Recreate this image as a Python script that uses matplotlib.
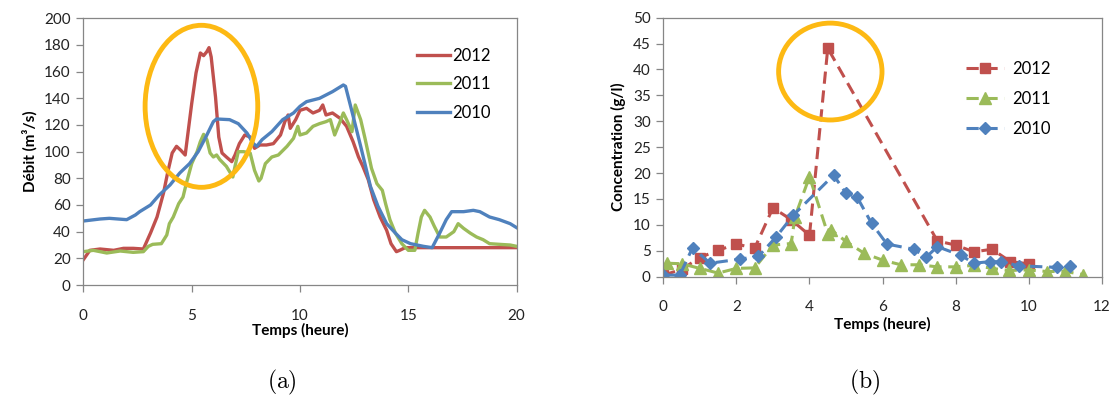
import matplotlib
matplotlib.use("Agg")
import matplotlib.pyplot as plt
from matplotlib.patches import Ellipse

plt.rcParams['font.family'] = ['Lato', 'DejaVu Sans']
plt.rcParams['mathtext.fontset'] = 'cm'

# couleurs façon Excel
c_red = '#C0504D'
c_green = '#9BBB59'
c_blue = '#4F81BD'
c_orange = '#FDB913'
c_axis = '#868686'

# (a) Débit
t12 = [0, 0.3, 0.77, 1.4, 1.85, 2.3, 2.77, 3.1, 3.4, 3.7, 3.9, 4.1, 4.3, 4.5, 4.7, 5.0, 5.2, 5.4,
       5.55, 5.7, 5.8, 5.9, 6.1, 6.25, 6.4, 6.6, 6.85, 7.0, 7.2, 7.45, 7.7, 7.9, 8.15, 8.45, 8.77,
       9.1, 9.3, 9.45, 9.55, 9.8, 10.0, 10.3, 10.6, 10.9, 11.05, 11.2, 11.5, 11.85, 12.15, 12.45,
       12.7, 12.9, 13.15, 13.4, 13.7, 14.0, 14.2, 14.45, 14.6, 14.85, 20.0]
q12 = [19, 26, 27, 26, 27.5, 27.5, 27, 39, 51, 69, 85, 99, 104, 101, 97.5, 136, 159, 174,
       172, 175, 178, 171, 141, 111, 99, 96, 92.5, 97.5, 106, 112.5, 111, 102.5, 105, 105, 106,
       112.5, 122.5, 127.5, 117.5, 124, 131, 132.5, 129, 131, 135, 127.5, 129, 125, 119, 107.5,
       96, 89, 79, 64, 51, 41, 31, 25, 26, 28, 28]

t11 = [0, 0.46, 1.08, 1.7, 2.3, 2.77, 3.0, 3.2, 3.6, 3.85, 3.97, 4.15, 4.4, 4.6, 4.75, 5.0, 5.25,
       5.4, 5.55, 5.7, 5.85, 6.0, 6.15, 6.3, 6.6, 6.9, 7.0, 7.15, 7.4, 7.7, 7.9, 8.1, 8.2, 8.4, 8.7,
       9.0, 9.4, 9.7, 9.9, 10.0, 10.3, 10.6, 10.9, 11.2, 11.4, 11.6, 11.85, 12.0, 12.15, 12.4,
       12.55, 12.8, 13.0, 13.3, 13.55, 13.8, 13.95, 14.15, 14.4, 14.7, 15.0, 15.3, 15.45, 15.6,
       15.75, 16.0, 16.2, 16.45, 16.75, 17.1, 17.3, 17.55, 17.85, 18.15, 18.45, 18.75, 19.2,
       19.7, 20.0]
q11 = [25, 26, 24, 25.5, 24.5, 25, 29, 30.5, 31, 37.5, 46, 51, 61, 66, 76, 91, 100,
       107.5, 113, 109, 99, 96, 97.5, 94, 89, 81, 89, 100, 100, 99, 86, 78, 80, 91, 96,
       97.5, 104, 110, 119, 112.5, 114, 119, 121, 122.5, 124, 112.5, 122.5, 129, 124, 115,
       135, 124, 110, 87.5, 76, 71, 61, 49, 39, 31, 26, 26, 39, 51,
       56, 51, 44, 36, 36, 40, 46, 42.5, 39, 36, 34, 31, 30.5,
       30, 29]

t10 = [0, 0.77, 1.2, 2.0, 2.4, 2.6, 3.1, 3.5, 4.0, 4.45, 4.9, 5.3, 5.7, 6.0, 6.15, 6.75, 7.15,
       7.55, 7.85, 8.0, 8.25, 8.7, 9.2, 9.7, 10.0, 10.3, 10.9, 11.5, 12.0, 12.1, 12.4, 12.8,
       13.25, 13.6, 14.0, 14.4, 14.7, 15.1, 15.7, 16.1, 16.45, 16.75, 17.0, 17.55, 18.0, 18.3,
       18.75, 19.2, 19.7, 20.0]
q10 = [48, 49.5, 50, 49, 52.5, 55, 60, 67.5, 75, 84, 91, 100, 112.5, 122.5, 124.5, 124, 121,
       114, 106, 104, 109, 115, 124, 129, 134, 137.5, 140, 145, 150, 149, 130, 104,
       74, 59, 46, 39, 34, 31, 29, 28, 39, 49, 55, 55, 56, 55,
       51, 49, 46, 43]

# (b) Concentration
x12 = [0, 0.5, 1.0, 1.5, 2.0, 2.5, 3.0, 3.5, 4.0, 4.5, 7.5, 8.0, 8.5, 9.0, 9.5, 10.0]
c12 = [0.3, 1.4, 3.7, 5.1, 6.3, 5.5, 13.3, 11.0, 8.0, 44.1, 6.9, 6.1, 4.8, 5.3, 2.9, 2.5]

x11 = [0.1, 0.5, 1.0, 1.5, 2.0, 2.5, 3.0, 3.5, 3.6, 4.0, 4.5, 4.6, 5.0, 5.5, 6.0, 6.5, 7.0,
       7.5, 8.0, 8.5, 9.0, 9.45, 10.0, 10.5, 11.0, 11.5]
c11 = [2.6, 2.5, 1.6, 0.7, 1.6, 1.7, 6.1, 6.4, 11.5, 19.3, 8.3, 9.0, 6.8, 4.5, 3.2, 2.3, 2.3,
       1.9, 1.9, 2.2, 1.6, 1.2, 1.3, 1.0, 1.0, 0.4]

x10 = [0, 0.45, 0.8, 1.28, 2.1, 2.6, 3.09, 3.56, 4.66, 5.0, 5.3, 5.7, 6.12, 6.85, 7.2, 7.5,
       8.15, 8.5, 8.93, 9.25, 9.73, 10.78, 11.12]
c10 = [0.3, 0.3, 5.6, 2.6, 3.4, 3.9, 7.7, 11.9, 19.6, 16.1, 15.4, 10.3, 6.3, 5.3, 3.8, 5.8,
       4.1, 2.6, 2.9, 2.9, 2.1, 1.8, 2.1]

years = ['2012', '2011', '2010']

fig = plt.figure(figsize=(11.13, 3.98), dpi=100)
ax1 = fig.add_axes([0.0749, 0.2839, 0.3893, 0.6701])
ax2 = fig.add_axes([0.5960, 0.3048, 0.3939, 0.6508])

# --- (a)
ax1.plot(t12, q12, color=c_red, lw=2.4, label=years[0])
ax1.plot(t11, q11, color=c_green, lw=2.4, label=years[1])
ax1.plot(t10, q10, color=c_blue, lw=2.4, label=years[2])
ax1.add_patch(Ellipse((5.45, 134), 5.2, 121.5, fill=False, ec=c_orange, lw=3.5, zorder=5))
ax1.set_xlim(0, 20)
ax1.set_ylim(0, 200)
ax1.set_xticks([0, 5, 10, 15, 20])
ax1.set_yticks(range(0, 201, 20))
ax1.set_ylabel('Débit (m³/s)', fontsize=11, fontweight='bold', labelpad=5)
ax1.set_xlabel('Temps (heure)', fontsize=11, fontweight='bold', labelpad=0)
ax1.legend(loc='upper left', bbox_to_anchor=(0.755, 0.915), frameon=False, fontsize=12,
           handlelength=2.0, handletextpad=0.1, labelspacing=0.75, borderaxespad=0)

# --- (b)
dash = (0, (4, 2.2))
ax2.plot(x12, c12, color=c_red, lw=2.2, ls=dash, marker='s', ms=7.5, label=years[0])
ax2.plot(x11, c11, color=c_green, lw=2.2, ls=dash, marker='^', ms=8, label=years[1])
ax2.plot(x10, c10, color=c_blue, lw=2.2, ls=dash, marker='D', ms=6.5, label=years[2])
ax2.add_patch(Ellipse((4.57, 39.6), 2.83, 18.7, fill=False, ec=c_orange, lw=3.5, zorder=5))
ax2.set_xlim(0, 12)
ax2.set_ylim(0, 50)
ax2.set_xticks(range(0, 13, 2))
ax2.set_yticks(range(0, 51, 5))
ax2.set_ylabel('Concentration (g/l)', fontsize=11, fontweight='bold', labelpad=5)
ax2.set_xlabel('Temps (heure)', fontsize=11, fontweight='bold', labelpad=2)
ax2.legend(loc='upper left', bbox_to_anchor=(0.675, 0.86), frameon=False, fontsize=12,
           handlelength=2.3, handletextpad=0.45, labelspacing=0.85, borderaxespad=0)

for ax in (ax1, ax2):
    for s in ax.spines.values():
        s.set_color(c_axis)
        s.set_linewidth(0.9)
    ax.tick_params(axis='both', direction='out', length=5, width=0.9, color=c_axis,
                   labelsize=11, labelcolor='#222222', pad=4)
    ax.tick_params(axis='x', pad=12)

fig.text(282 / 1113, 1 - 382 / 398, r'$\mathrm{(a)}$', ha='center', va='center', fontsize=17)
fig.text(865 / 1113, 1 - 382 / 398, r'$\mathrm{(b)}$', ha='center', va='center', fontsize=17)

fig.savefig('out.png', dpi=100)
